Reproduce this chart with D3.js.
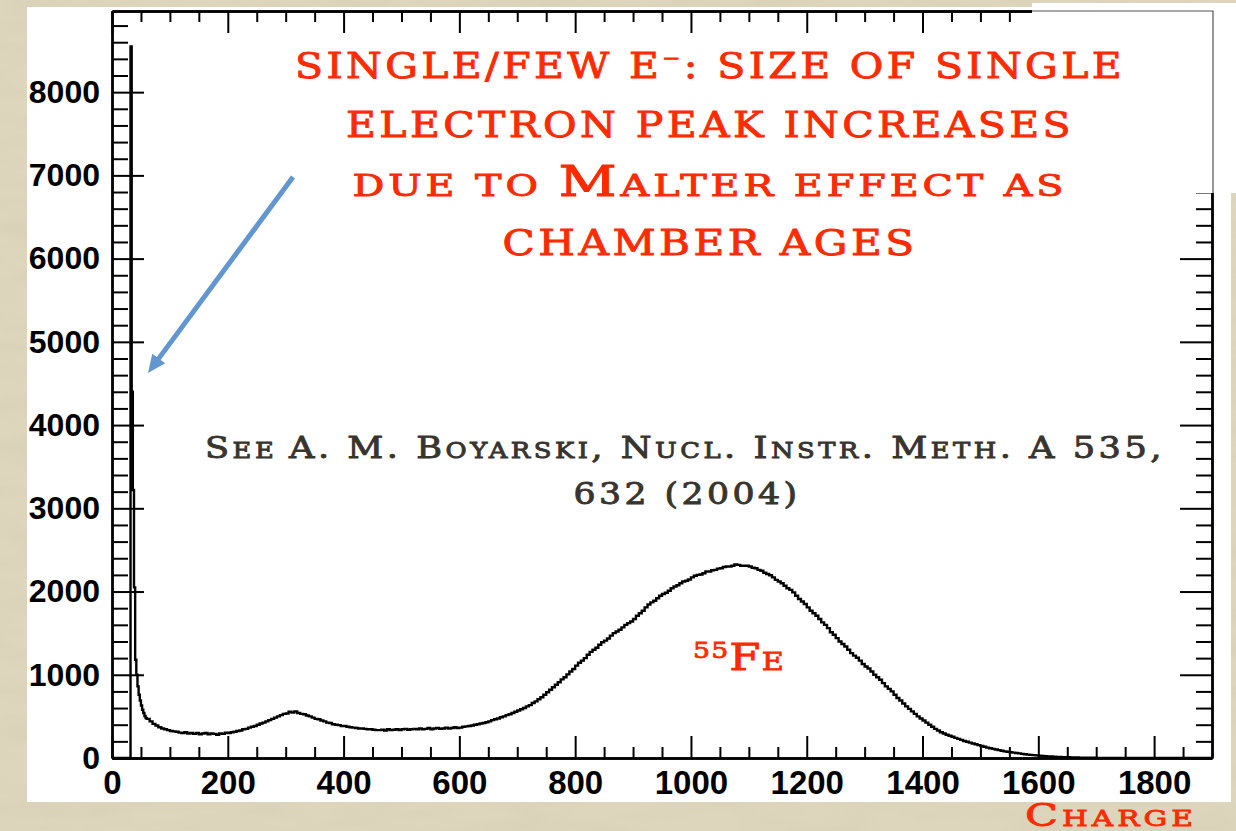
<!DOCTYPE html>
<html>
<head>
<meta charset="utf-8">
<script src="https://cdn.jsdelivr.net/npm/d3@7"></script>
<style>
  html, body { margin: 0; padding: 0; background: #ddd6bd; }
  svg { display: block; }
</style>
</head>
<body>
<svg id="chart" width="1236" height="831"></svg>
<script>
// ---- data -------------------------------------------------------------
// Narrow bins around the single/few-electron spike (charge units)
const spikeStart = 32;
const spikeBinWidth = 2;
const spikeCounts = [8550, 4400, 3220, 2050, 1180, 1000, 860, 760, 690, 630, 580, 540, 505, 480];

// Regular 5-unit bins from charge 60 up to 1900 (one row = 100 charge units)
const mainStart = 60;
const mainBinWidth = 5;
const mainCounts = [
  470, 440, 410, 390, 370, 355, 345, 335, 325, 320, 315, 305, 300, 310, 295, 300, 290, 300, 285, 295,            // 60
  300, 285, 295, 290, 280, 295, 290, 305, 300, 310, 315, 325, 330, 345, 350, 365, 375, 385, 400, 415,            // 160
  425, 440, 455, 470, 485, 500, 515, 530, 535, 555, 545, 560, 540, 530, 525, 510, 500, 485, 470, 465,            // 260
  450, 440, 425, 420, 405, 400, 395, 385, 385, 375, 370, 365, 360, 355, 355, 350, 345, 345, 340, 335,            // 360
  335, 340, 330, 345, 335, 340, 345, 335, 345, 350, 340, 345, 350, 345, 355, 345, 350, 360, 345, 355,            // 460
  360, 350, 355, 365, 355, 360, 370, 360, 365, 375, 380, 385, 390, 400, 405, 415, 420, 430, 440, 455,            // 560
  465, 475, 490, 500, 515, 525, 540, 555, 570, 585, 600, 620, 635, 660, 680, 705, 730, 760, 790, 820,            // 660
  850, 880, 910, 945, 970, 1005, 1040, 1070, 1110, 1145, 1170, 1200, 1240, 1275, 1300, 1325, 1360, 1390, 1410, 1435, // 760
  1470, 1500, 1520, 1540, 1570, 1600, 1620, 1640, 1670, 1710, 1740, 1770, 1810, 1845, 1870, 1890, 1920, 1950, 1970, 1985, // 860
  2010, 2040, 2060, 2075, 2100, 2120, 2130, 2145, 2170, 2190, 2200, 2205, 2220, 2240, 2240, 2255, 2260, 2275, 2280, 2295, // 960
  2300, 2300, 2310, 2325, 2320, 2310, 2310, 2310, 2300, 2285, 2280, 2260, 2250, 2225, 2210, 2195, 2170, 2140, 2120, 2100, // 1060
  2070, 2040, 2020, 1990, 1950, 1910, 1880, 1850, 1810, 1770, 1740, 1710, 1670, 1630, 1600, 1560, 1510, 1480, 1440, 1400, // 1160
  1370, 1340, 1300, 1260, 1230, 1205, 1170, 1130, 1100, 1075, 1040, 1000, 970, 940, 900, 860, 830, 800, 760, 720,   // 1260
  690, 655, 620, 590, 560, 530, 500, 475, 450, 425, 400, 375, 350, 330, 310, 295, 280, 268, 255, 242,            // 1360
  230, 218, 205, 195, 185, 175, 165, 155, 145, 135, 125, 118, 110, 102, 95, 88, 80, 75, 70, 65,                  // 1460
  60, 55, 50, 45, 40, 37, 35, 31, 28, 25, 22, 20, 18, 16, 14, 12, 11, 10, 9, 8,                                  // 1560
  7, 6, 5, 5, 4, 4, 3, 3, 2, 2, 2, 2, 1, 1, 1, 1, 1, 1, 0, 0,                                                    // 1660
  0, 0, 0, 0, 0, 0, 0, 0, 0, 0, 0, 0, 0, 0, 0, 0, 0, 0, 0, 0,                                                    // 1760
  0, 0, 0, 0, 0, 0, 0, 0                                                                                         // 1860
];

const xMajorTicks = [0, 200, 400, 600, 800, 1000, 1200, 1400, 1600, 1800];
const yMajorTicks = [0, 1000, 2000, 3000, 4000, 5000, 6000, 7000, 8000];
const xMinorStep = 50;
const yMinorStep = 200;

const xMax = 1900;
const yMax = 8975;

// ---- layout -----------------------------------------------------------
const svg = d3.select("#chart");
const frame = { left: 112, right: 1212, top: 11, bottom: 758 };

const x = d3.scaleLinear().domain([0, xMax]).range([frame.left, frame.right]);
const y = d3.scaleLinear().domain([0, yMax]).range([frame.bottom, frame.top]);

const red = "#ff2a00";
const serif = "'DejaVu Serif', 'Liberation Serif', serif";

// page background with a light linen texture
const defs = svg.append("defs");
const tex = defs.append("filter").attr("id", "linen").attr("x", 0).attr("y", 0).attr("width", "100%").attr("height", "100%");
tex.append("feTurbulence").attr("type", "fractalNoise").attr("baseFrequency", "0.012 0.05").attr("numOctaves", 3).attr("seed", 4);
tex.append("feColorMatrix").attr("type", "matrix")
  .attr("values", "0 0 0 0 0.55  0 0 0 0 0.50  0 0 0 0 0.38  0 0 0 -0.9 0.55");
svg.append("rect").attr("width", 1236).attr("height", 831).attr("fill", "#ddd6bd");
svg.append("rect").attr("width", 1236).attr("height", 831).attr("filter", "url(#linen)").attr("opacity", 0.35);
svg.append("rect").attr("x", 27).attr("y", 7).attr("width", 1204).attr("height", 795).attr("fill", "#ffffff");

// ---- histogram --------------------------------------------------------
const bins = [];
bins.push({ x0: 0, v: 0 });
spikeCounts.forEach((c, i) => bins.push({ x0: spikeStart + i * spikeBinWidth, v: c }));
mainCounts.forEach((c, i) => bins.push({ x0: mainStart + i * mainBinWidth, v: c }));
bins.push({ x0: mainStart + mainCounts.length * mainBinWidth, v: mainCounts[mainCounts.length - 1] });

const line = d3.line()
  .x(d => x(d.x0))
  .y(d => y(d.v))
  .curve(d3.curveStepAfter);

svg.append("path")
  .datum(bins)
  .attr("d", line)
  .attr("fill", "none")
  .attr("stroke", "#000")
  .attr("stroke-width", 2.4)
  .attr("stroke-linejoin", "miter");

// ---- axes (ROOT style: ticks pointing inwards) ------------------------
const xMinor = d3.range(xMinorStep, xMax, xMinorStep).filter(v => v % 200 !== 0);
const yMinor = d3.range(yMinorStep, yMax, yMinorStep).filter(v => v % 1000 !== 0);

function styleAxis(g) {
  g.selectAll("path.domain").attr("stroke", "#000").attr("stroke-width", 2.4);
  g.selectAll(".tick line").attr("stroke", "#000").attr("stroke-width", 2);
}

// bottom
const gB = svg.append("g").attr("transform", `translate(0,${frame.bottom})`)
  .call(d3.axisBottom(x).tickValues(xMajorTicks).tickSize(-22).tickSizeOuter(0).tickPadding(13)
    .tickFormat(d3.format("d")));
styleAxis(gB);
gB.selectAll("text").attr("fill", "#000")
  .style("font", "bold 33px 'Liberation Sans', Arial, sans-serif");
svg.append("g").attr("transform", `translate(0,${frame.bottom})`)
  .call(d3.axisBottom(x).tickValues(xMinor).tickSize(-11).tickSizeOuter(0).tickFormat(""))
  .call(styleAxis);

// top
svg.append("g").attr("transform", `translate(0,${frame.top})`)
  .call(d3.axisTop(x).tickValues(xMajorTicks).tickSize(-22).tickSizeOuter(0).tickFormat(""))
  .call(styleAxis);
svg.append("g").attr("transform", `translate(0,${frame.top})`)
  .call(d3.axisTop(x).tickValues(xMinor).tickSize(-11).tickSizeOuter(0).tickFormat(""))
  .call(styleAxis);

// left
const gL = svg.append("g").attr("transform", `translate(${frame.left},0)`)
  .call(d3.axisLeft(y).tickValues(yMajorTicks).tickSize(-32).tickSizeOuter(0).tickPadding(12)
    .tickFormat(d3.format("d")));
styleAxis(gL);
gL.selectAll("text").attr("fill", "#000")
  .style("font", "bold 32px 'Liberation Sans', Arial, sans-serif");
svg.append("g").attr("transform", `translate(${frame.left},0)`)
  .call(d3.axisLeft(y).tickValues(yMinor).tickSize(-16).tickSizeOuter(0).tickFormat(""))
  .call(styleAxis);

// right
svg.append("g").attr("transform", `translate(${frame.right},0)`)
  .call(d3.axisRight(y).tickValues(yMajorTicks).tickSize(-32).tickSizeOuter(0).tickFormat(""))
  .call(styleAxis);
svg.append("g").attr("transform", `translate(${frame.right},0)`)
  .call(d3.axisRight(y).tickValues(yMinor).tickSize(-16).tickSizeOuter(0).tickFormat(""))
  .call(styleAxis);

// ---- annotation box in the upper right --------------------------------
svg.append("rect").attr("x", 1032).attr("y", 3).attr("width", 204).attr("height", 190).attr("fill", "#ffffff");
svg.append("path")
  .attr("d", `M1032,${frame.top}H${frame.right + 1}V193`)
  .attr("fill", "none").attr("stroke", "#555").attr("stroke-width", 1.2);

// ---- texts ------------------------------------------------------------
function smallCaps(sel, parts) {
  // parts: [text, fontSize, extra attrs]
  parts.forEach(p => {
    const t = sel.append("tspan").text(p[0]).attr("font-size", p[1]);
    if (p[2]) Object.entries(p[2]).forEach(([k, v]) => t.attr(k, v));
  });
}

function wideText(attrs, colour, weight) {
  const t = svg.append("text")
    .attr("fill", colour)
    .attr("stroke", colour)
    .attr("stroke-width", weight)
    .attr("font-family", serif)
    .attr("letter-spacing", 3)
    .attr("lengthAdjust", "spacingAndGlyphs");
  Object.entries(attrs).forEach(([k, v]) => t.attr(k, v));
  return t;
}

const titleLines = [
  { y: 78, len: 830, parts: [["SINGLE/FEW E", 36], ["⁻", 30, { dy: -4 }], [": SIZE OF SINGLE", 36, { dy: 4 }]] },
  { y: 137, len: 728, parts: [["ELECTRON PEAK INCREASES", 36]] },
  { y: 196, len: 715, parts: [["DUE TO ", 30], ["M", 43], ["ALTER EFFECT AS", 30]] },
  { y: 255, len: 415, parts: [["CHAMBER AGES", 36]] }
];
titleLines.forEach(l => {
  const t = wideText({ x: 710, y: l.y, "text-anchor": "middle", textLength: l.len }, red, 0.9);
  smallCaps(t, l.parts);
});

// reference note
const refColor = "#38342e";
const r1 = wideText({ x: 205, y: 458, textLength: 960 }, refColor, 0.9);
smallCaps(r1, [
  ["S", 30], ["EE ", 22], ["A. M. B", 30], ["OYARSKI", 22], [", N", 30], ["UCL", 22],
  [". I", 30], ["NSTR", 22], [". M", 30], ["ETH", 22], [". A 535,", 30]
]);
const r2 = wideText({ x: 687, y: 504, "text-anchor": "middle", textLength: 227 }, refColor, 0.9);
smallCaps(r2, [["632 (2004)", 30]]);

// 55Fe peak label
const fe = wideText({ x: 693, y: 670, textLength: 92 }, red, 0.8);
fe.attr("letter-spacing", 1);
smallCaps(fe, [["55", 22, { dy: -12 }], ["F", 37, { dy: 12 }], ["E", 25]]);

// axis title
const ax = wideText({ x: 1025, y: 826, textLength: 172 }, red, 0.8);
smallCaps(ax, [["C", 32], ["HARGE", 22]]);

// arrow pointing at the spike
const a0 = [293, 177], a1 = [148, 373];
const dx = a1[0] - a0[0], dy = a1[1] - a0[1];
const L = Math.hypot(dx, dy), ux = dx / L, uy = dy / L;
const headLen = 18, headW = 8;
const base = [a1[0] - ux * headLen, a1[1] - uy * headLen];
svg.append("line")
  .attr("x1", a0[0]).attr("y1", a0[1])
  .attr("x2", base[0] + ux * 2).attr("y2", base[1] + uy * 2)
  .attr("stroke", "#6196d0").attr("stroke-width", 5);
svg.append("path")
  .attr("d", `M${a1[0]},${a1[1]}L${base[0] - uy * headW},${base[1] + ux * headW}L${base[0] + uy * headW},${base[1] - ux * headW}Z`)
  .attr("fill", "#6196d0");
</script>
</body>
</html>
